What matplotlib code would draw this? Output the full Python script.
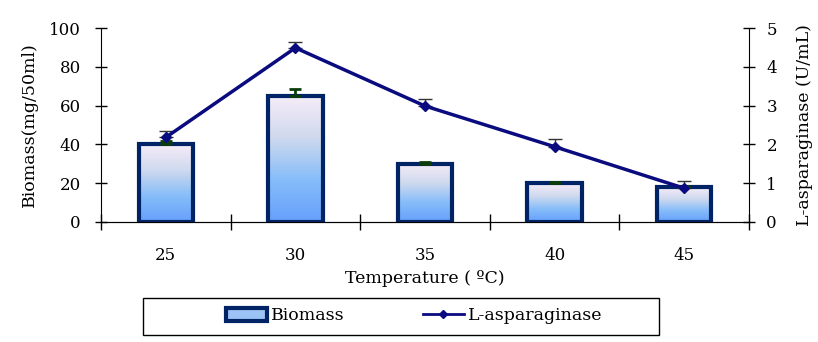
import numpy as np
import matplotlib
matplotlib.use("Agg")
import matplotlib.pyplot as plt
from matplotlib.colors import LinearSegmentedColormap
from matplotlib.patches import Patch, Rectangle
from matplotlib.lines import Line2D

temps = ["25", "30", "35", "40", "45"]
biomass = [40, 65, 30, 20, 18]
biomass_err = [1.5, 3.5, 1.0, 0.6, 0.8]
asparaginase = [2.18, 4.49, 2.99, 1.94, 0.87]
asparaginase_err = [0.17, 0.15, 0.17, 0.2, 0.18]

plt.rcParams['font.family'] = ['DejaVu Serif']
plt.rcParams['font.size'] = 12

fig = plt.figure(figsize=(8.18, 3.42), dpi=100)
ax = fig.add_axes([0.1235, 0.351, 0.7921, 0.567])

x = np.arange(len(temps))
edge = '#002366'
line_col = '#0b0b80'
grad = LinearSegmentedColormap.from_list('g', ['#66a0fc', '#86bdf9', '#cfd9ee', '#f6ecf8'])
bars = ax.bar(x, biomass, width=0.42, facecolor='none', edgecolor=edge, linewidth=3, zorder=3)
for b in bars:
    x0, y0 = b.get_x(), b.get_y()
    w, h = b.get_width(), b.get_height()
    im = ax.imshow(np.linspace(0, 1, 100).reshape(-1, 1), cmap=grad, aspect='auto',
                   extent=[x0, x0 + w, y0, y0 + h], origin='lower', zorder=2)
    im.set_clip_path(b)
ax.errorbar(x, biomass, yerr=[np.zeros(len(x)), biomass_err], fmt='none',
            ecolor='#0b3d0b', elinewidth=2, capsize=4, capthick=2, zorder=4)

ax.set_xlim(-0.5, len(temps) - 0.5)
ax.set_ylim(0, 100)
ax.set_yticks(range(0, 101, 20))
ax.set_xticks(x)
ax.set_xticklabels(temps)
ax.set_xticks(np.arange(-0.5, len(temps)), minor=True)
ax.tick_params(axis='x', which='major', length=0, pad=18)
ax.tick_params(axis='x', which='minor', direction='inout', length=12, width=1)
ax.tick_params(axis='y', direction='inout', length=9, width=1, pad=10)
ax.spines['top'].set_visible(False)
ax.spines['right'].set_visible(False)
ax.set_xlabel('Temperature ( \u00baC)', labelpad=4, fontsize=12.5)
ax.set_ylabel('Biomass(mg/50ml)', labelpad=8, fontsize=12.5)

ax2 = ax.twinx()
ax2.set_ylim(0, 5)
ax2.errorbar(x, asparaginase, yerr=[np.zeros(len(x)), asparaginase_err], fmt='none',
             ecolor='#333333', elinewidth=1, capsize=5, capthick=1, zorder=4)
ax2.plot(x, asparaginase, color=line_col, linewidth=2.5, marker='D', markersize=5, zorder=5)
ax2.tick_params(axis='y', direction='inout', length=9, width=1, pad=8)
ax2.spines['top'].set_visible(False)
ax2.spines['left'].set_visible(False)
ax2.set_ylabel('L-asparaginase (U/mL)', labelpad=14, fontsize=12.5)

# legend box
fig.patches.append(Rectangle((143 / 818, 7 / 342), 516 / 818, 37 / 342, transform=fig.transFigure,
                             fill=False, edgecolor='black', linewidth=1))
handles = [Patch(facecolor='#9cc3f5', edgecolor=edge, linewidth=3),
           Line2D([], [], color=line_col, linewidth=2, marker='D', markersize=4)]
fig.legend(handles, ['Biomass', 'L-asparaginase'], loc='center',
           bbox_to_anchor=(414 / 818, 1 - 316 / 342), ncol=2, frameon=False,
           columnspacing=4.5, handlelength=2.4, handleheight=0.8,
           handletextpad=0.2, fontsize=12.5, borderaxespad=0)

fig.savefig('out.png', dpi=100)
